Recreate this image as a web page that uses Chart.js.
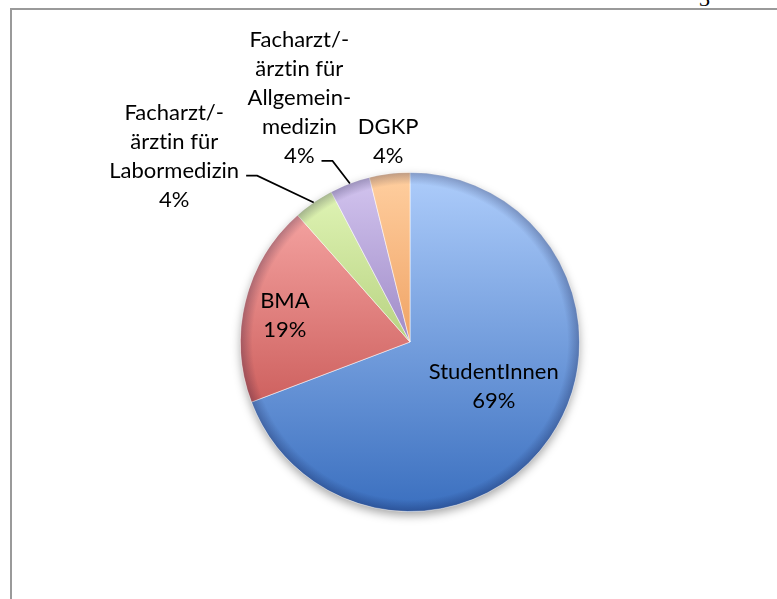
<!DOCTYPE html>
<html>
<head>
<meta charset="utf-8">
<script src="https://cdn.jsdelivr.net/npm/chart.js@4.4.1/dist/chart.umd.min.js"></script>
<style>
  html, body { margin: 0; padding: 0; background: #fff; overflow: hidden; }
  #frame {
    position: absolute; left: 10px; top: 8px; width: 900px; height: 700px;
    border-left: 2px solid #9a9a9a; border-top: 2px solid #9a9a9a;
  }
  #pageNo {
    position: absolute; left: 699px; top: -12px;
    font: 22px/1 'Liberation Serif', serif; color: #000;
  }
  #chart { position: absolute; left: 0; top: 0; }
</style>
</head>
<body>
<div id="frame"></div>
<div id="pageNo">3</div>
<canvas id="chart" width="777" height="599"></canvas>
<script>
// Categories and values (n = 26)
const categories = ['StudentInnen', 'BMA', 'Facharzt/-ärztin für Labormedizin', 'Facharzt/-ärztin für Allgemeinmedizin', 'DGKP'];
const values = [18, 5, 1, 1, 1];

// label text as shown (wrapped like the original)
const labelLines = [
  ['StudentInnen'],
  ['BMA'],
  ['Facharzt/-', 'ärztin für', 'Labormedizin'],
  ['Facharzt/-', 'ärztin für', 'Allgemein-', 'medizin'],
  ['DGKP']
];

// gradient colours, top -> bottom of the pie
const lightColors = ['#aecdfb', '#fcb0ae', '#e4f8bb', '#d4c6f0', '#ffcfa0'];
const darkColors  = ['#3a6fbf', '#b83b39', '#8cad48', '#6a509e', '#e0772a'];

// label placement in units of the radius, relative to the pie centre
// dy is the baseline of the first line; leader = line index the leader starts from
const labelPlace = [
  { dx: 0.494,  dy: 0.218,  leader: -1 },
  { dx: -0.738, dy: -0.200, leader: -1 },
  { dx: -1.391, dy: -1.312, leader: 2 },
  { dx: -0.653, dy: -1.741, leader: 4 },
  { dx: -0.129, dy: -1.229, leader: -1 }
];

const FONT = '22px Lato, "Open Sans", sans-serif';
const LINE_H = 29;

const total = values.reduce((a, b) => a + b, 0);

// Lato ligates "ti"; a zero-width non-joiner keeps the letters apart
const noLig = (s) => s.replace(/ti/g, 't\u200Ci');

const pieDecor = {
  id: 'pieDecor',
  beforeDatasetsDraw(chart) {
    const a = chart.getDatasetMeta(0).data[0];
    const ctx = chart.ctx;
    ctx.save();
    ctx.shadowColor = 'rgba(0,0,0,0.35)';
    ctx.shadowBlur = 10;
    ctx.shadowOffsetY = 4;
    ctx.fillStyle = '#fff';
    ctx.beginPath();
    ctx.arc(a.x, a.y, a.outerRadius, 0, Math.PI * 2);
    ctx.fill();
    ctx.restore();
  },
  afterDatasetsDraw(chart) {
    const ctx = chart.ctx;
    const arcs = chart.getDatasetMeta(0).data;
    const cx = arcs[0].x, cy = arcs[0].y, R = arcs[0].outerRadius;

    // soft bevel at the rim
    ctx.save();
    ctx.beginPath();
    ctx.arc(cx, cy, R, 0, Math.PI * 2);
    ctx.clip();
    const rg = ctx.createRadialGradient(cx, cy, R - 12, cx, cy, R);
    rg.addColorStop(0, 'rgba(0,0,40,0)');
    rg.addColorStop(1, 'rgba(0,0,40,0.25)');
    ctx.fillStyle = rg;
    ctx.fillRect(cx - R, cy - R, 2 * R, 2 * R);
    ctx.restore();

    // labels
    ctx.save();
    ctx.font = FONT;
    ctx.fillStyle = '#000';
    ctx.textAlign = 'center';
    ctx.textBaseline = 'alphabetic';
    arcs.forEach((arc, i) => {
      const p = labelPlace[i];
      const lines = labelLines[i].concat([Math.round(values[i] / total * 100) + '%']);
      const lx = cx + p.dx * R;
      const ly = cy + p.dy * R;
      lines.forEach((t, k) => ctx.fillText(noLig(t), lx, ly + k * LINE_H));

      if (p.leader >= 0) {
        const w = ctx.measureText(noLig(lines[p.leader])).width;
        const sx = lx + w / 2 + 7;
        const sy = ly + p.leader * LINE_H - 2;
        const mid = (arc.startAngle + arc.endAngle) / 2;
        const ex = cx + Math.cos(mid) * R;
        const ey = cy + Math.sin(mid) * R;
        ctx.strokeStyle = '#000';
        ctx.lineWidth = 1.7;
        ctx.beginPath();
        ctx.moveTo(sx, sy);
        ctx.lineTo(sx + 11, sy);
        ctx.lineTo(ex, ey);
        ctx.stroke();
      }
    });
    ctx.restore();
  }
};

new Chart(document.getElementById('chart').getContext('2d'), {
  type: 'pie',
  data: {
    labels: categories,
    datasets: [{
      data: values,
      backgroundColor: (c) => {
        const { ctx, chartArea } = c.chart;
        if (!chartArea) return darkColors[c.dataIndex];
        const g = ctx.createLinearGradient(0, chartArea.top, 0, chartArea.bottom);
        g.addColorStop(0, lightColors[c.dataIndex]);
        g.addColorStop(1, darkColors[c.dataIndex]);
        return g;
      },
      borderColor: 'rgba(255,255,255,0.5)',
      borderWidth: 1
    }]
  },
  options: {
    responsive: false,
    animation: false,
    layout: { padding: { left: 240, top: 172, right: 197, bottom: 87 } },
    plugins: {
      legend: { display: false },
      tooltip: { enabled: false }
    }
  },
  plugins: [pieDecor]
});
</script>
</body>
</html>
